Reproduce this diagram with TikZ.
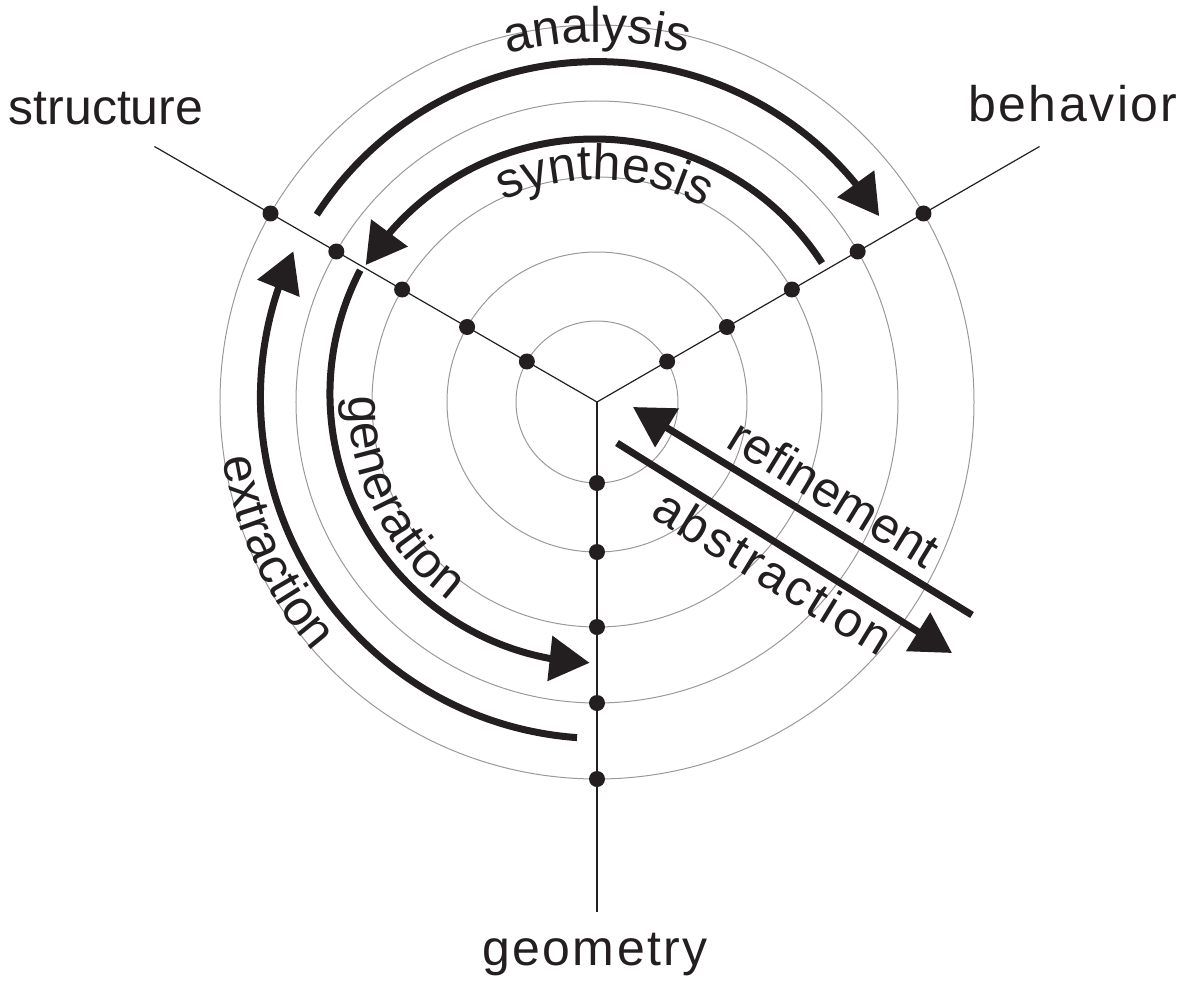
\documentclass[tikz,border=0pt]{standalone}
\usepackage{fontspec}
\setmainfont{Liberation Sans}
\usetikzlibrary{arrows.meta,bending,decorations.text}
\definecolor{ink}{RGB}{35,31,32}
\newcommand{\bigfont}{\fontsize{50}{60}\selectfont}
\begin{document}
\begin{tikzpicture}[x=1pt,y=1pt,
  ring/.style={draw=black!40, line width=1pt},
  axisline/.style={draw=ink, line width=1.2pt},
  dot/.style={circle, fill=ink, inner sep=0pt, minimum size=16pt},
  flow/.style={draw=ink, line width=7pt, -{Triangle[length=40pt,width=44pt,flex]}},
  lbl/.style={text=ink, font=\bigfont, inner sep=0pt},
  widelbl/.style={lbl, font=\bigfont\addfontfeatures{LetterSpace=5}}
]
\useasboundingbox (-597,-581) rectangle (583,402);
\coordinate (O) at (0,0);
% rings
\foreach \r in {81,150,225,301,377} \draw[ring] (O) circle[radius=\r];
% axes
\coordinate (S) at (150:511);
\coordinate (B) at (30:511);
\coordinate (G) at (270:510);
\draw[axisline] (O) -- (S);
\draw[axisline] (O) -- (B);
\draw[axisline] (O) -- (G);
\foreach \r [count=\i] in {81,150,225,301,377} {
  \node[dot] (s\i) at (150:\r) {};
  \node[dot] (b\i) at (30:\r) {};
  \node[dot] (g\i) at (270:\r) {};
}
% analysis
\begin{scope}[shift={(0.5,6.4)}]
  \draw[flow] (147.2:334) arc[start angle=147.2, end angle=32.5, radius=334];
\end{scope}
% synthesis
\begin{scope}[shift={(-2.5,-7.7)}]
  \draw[flow] (32.8:270.7) arc[start angle=32.8, end angle=147.7, radius=270.7];
\end{scope}
% generation
\begin{scope}[shift={(2,8)}]
  \draw[flow] (152.6:269) arc[start angle=152.6, end angle=268, radius=269];
\end{scope}
% extraction
\begin{scope}[shift={(4.4,4.5)}]
  \draw[flow] (265.9:341) arc[start angle=265.9, end angle=154.6, radius=341];
\end{scope}
% refinement / abstraction
\coordinate (rt) at (375,-213);
\coordinate (rh) at (36,-5);
\draw[flow] (rt) -- (rh);
\coordinate (at) at (20,-41);
\coordinate (ah) at (355,-251);
\draw[flow] (at) -- (ah);
% curved labels
\path[decorate, decoration={text along path, text align=center, text color=ink,
  text={|\bigfont|analysis}}] (120:360) arc[start angle=120, end angle=60, radius=360];
\path[decorate, decoration={text along path, text align=center, text color=ink,
  text={|\bigfont|synthesis}}] (118:222) arc[start angle=118, end angle=58, radius=222];
\path[decorate, decoration={text along path, text align=center, text color=ink,
  text={|\bigfont|generation}}] (150:248) arc[start angle=150, end angle=262, radius=248];
\path[decorate, decoration={text along path, text align=center, text color=ink,
  text={|\bigfont|extraction}}] (160:378) arc[start angle=160, end angle=250, radius=378];
% straight labels
\node[lbl, rotate=-31.5, anchor=base] (ref) at (228,-106) {refinement};
\node[widelbl, rotate=-31.5, anchor=base] (abs) at (167,-185) {abstraction};
% axis labels
\node[lbl, anchor=base] (structure) at (-491,277) {structure};
\node[widelbl, anchor=base] (behavior) at (476,280) {behavior};
\node[widelbl, anchor=base] (geometry) at (-2,-563) {geometry};
\end{tikzpicture}
\end{document}
